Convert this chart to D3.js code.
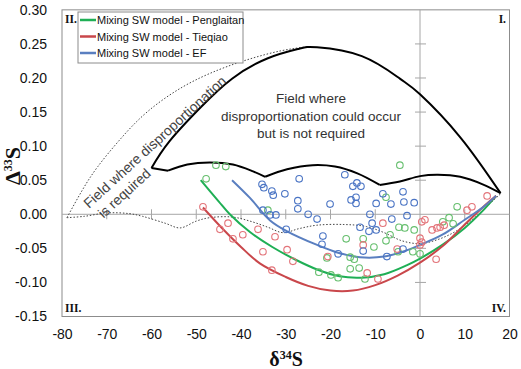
<!DOCTYPE html>
<html>
<head>
<meta charset="utf-8">
<script src="https://cdn.jsdelivr.net/npm/d3@7"></script>
<style>
body { margin: 0; background: #fff; }
text { font-family: "Liberation Sans", Arial, sans-serif; }
</style>
</head>
<body>
<div id="chart"></div>
<script>
// tick values
var xTicks = [-80, -70, -60, -50, -40, -30, -20, -10, 0, 10, 20];
var yTicks = [-0.15, -0.10, -0.05, 0.00, 0.05, 0.10, 0.15, 0.20, 0.25, 0.30];

// field boundaries (d34S, D33S)
var fieldArc = [[-60, 0.068], [-56, 0.107], [-49, 0.157], [-42, 0.199], [-34, 0.229], [-27, 0.243],
    [-23, 0.245], [-13, 0.232], [-4.5, 0.199], [0, 0.176], [9, 0.113], [18, 0.031]];
var fieldStart = [[-60, 0.068], [-56.3, 0.064]];
var fieldHump1 = [[-56.3, 0.064], [-52, 0.073], [-47, 0.076], [-41.8, 0.073], [-37.3, 0.063], [-34.6, 0.055]];
var fieldHump2 = [[-34.6, 0.055], [-29.7, 0.066], [-24, 0.072], [-19, 0.07], [-14, 0.06], [-9, 0.043]];
var fieldHump3 = [[-9, 0.043], [-4.5, 0.048], [0, 0.056], [4, 0.058], [9, 0.055], [14, 0.044], [18, 0.031]];

var dottedUpper = [[-78.9, -0.005], [-75.5, 0.035], [-72, 0.07], [-67, 0.11], [-61, 0.15], [-53, 0.187],
    [-45, 0.212], [-38, 0.228], [-31, 0.24], [-25, 0.246]];
var dottedLower = [[-78.9, -0.005], [-75, -0.003], [-70, 0.002], [-65, 0.001], [-62, -0.003], [-57, -0.013],
    [-53.6, -0.02], [-50, -0.01], [-47, -0.005], [-42, -0.004], [-38, -0.01], [-34, -0.019], [-30.6, -0.027],
    [-27, -0.021], [-23, -0.016], [-17, -0.015], [-12, -0.018], [-8, -0.027], [-4, -0.039], [0, -0.043],
    [4, -0.037], [8, -0.025], [12, -0.006], [15, 0.012], [18, 0.03]];

// mixing models
var modelPenglaitan = [[-49, 0.05], [-45, 0.019], [-42.5, 0], [-38, -0.026], [-33, -0.048], [-28, -0.066],
    [-23, -0.081], [-18, -0.091], [-13, -0.093], [-8, -0.088], [-3, -0.075], [0, -0.065], [5, -0.045],
    [10, -0.02], [14, 0.005], [17, 0.027]];
var modelTieqiao = [[-48.5, 0.01], [-44, -0.022], [-40, -0.048], [-35.8, -0.072], [-30, -0.092], [-25, -0.105],
    [-20, -0.112], [-15, -0.112], [-10, -0.104], [-5, -0.09], [0, -0.071], [5, -0.047], [10, -0.015],
    [14, 0.01], [17, 0.027]];
var modelEF = [[-42, 0.05], [-38, 0.024], [-33.5, -0.009], [-29.7, -0.025], [-23, -0.045], [-18.5, -0.056],
    [-13.4, -0.063], [-8, -0.062], [-3, -0.053], [0, -0.045], [5, -0.03], [10, -0.008], [14, 0.01], [17, 0.027]];

// samples
var pointsPenglaitan = [[-45.6, 0.072], [-43.4, 0.07], [-47.8, 0.052], [-34, 0.006], [-22.6, -0.085], [-4.5, 0.072],
    [-7.6, 0.025], [-20.8, -0.064], [-16.5, -0.036], [-12.7, -0.036], [-10.3, -0.048], [-6.7, -0.03],
    [-7.6, -0.039], [-4.7, -0.019], [-3.4, -0.02], [-1.3, -0.023], [-15.6, -0.063], [-14.7, -0.066],
    [-15.6, -0.08], [-19.9, -0.089], [-18.3, -0.093], [0, -0.058], [-4.9, -0.055], [-12.3, -0.095],
    [8.3, 0.011], [5.1, -0.011], [6.5, -0.005], [7.4, -0.014], [-1.6, -0.055], [-13.6, -0.079]];
var pointsTieqiao = [[-48.5, 0.011], [-42.9, -0.013], [-44.7, -0.022], [-36.2, -0.022], [-41.8, -0.036],
    [-39.6, -0.03], [-32.4, -0.033], [-35.1, -0.055], [-29.7, -0.052], [-28.4, -0.069], [-33.1, -0.082],
    [-20.6, -0.062], [-12.7, -0.045], [-11.8, -0.086], [-9.4, -0.095], [-8.3, -0.013], [-5.1, -0.051],
    [0.4, -0.011], [1.1, -0.008], [0, -0.035], [0.4, -0.041], [0, -0.045], [2.7, -0.023], [3.8, -0.02],
    [4.5, -0.019], [5.4, -0.016], [3.6, -0.066], [10.5, 0.006], [11.6, 0.011], [15, 0.027]];
var pointsEF = [[-35.3, 0.044], [-34.9, 0.039], [-27, 0.052], [-33.1, 0.034], [-32.8, 0.028], [-30.2, 0.03],
    [-27.3, 0.02], [-27.3, 0.008], [-35.1, 0.006], [-33.5, -0.001], [-32.2, -0.001], [-25, 0], [-23, -0.007],
    [-29.9, -0.022], [-16.8, 0.058], [-15, 0.041], [-14.1, 0.046], [-13.2, 0.041], [-14.3, 0.025],
    [-15.4, 0.021], [-14.3, 0.016], [-20.1, 0.015], [-9.8, 0.016], [-8.3, 0.03], [-6.5, 0.015], [-3.8, 0.033],
    [-3.6, 0.018], [-1.3, 0.017], [-11.2, 0], [-10.7, -0.013], [-6.3, -0.007], [-2.9, -0.002], [-13.4, -0.019],
    [-11.4, -0.025], [-9.8, -0.023], [-21.7, -0.032], [-21.9, -0.044], [-18.3, -0.058], [-12.7, -0.054],
    [-7.4, -0.062], [-3.8, -0.051]];

var legendNames = ["Mixing SW model - Penglaitan", "Mixing SW model - Tieqiao", "Mixing SW model - EF"];
var lineColors = ["#1faf55", "#c9474b", "#5a7fc0"];
var pointColors = ["#66bf6e", "#e3747a", "#4a74c4"];

var width = 521, height = 369;
var svg = d3.select("#chart").append("svg")
    .attr("width", width)
    .attr("height", height);

var x = d3.scaleLinear().domain([-80, 20]).range([62, 509.5]);
var y = d3.scaleLinear().domain([-0.15, 0.30]).range([316.5, 9.85]);

// frame
svg.append("rect")
    .attr("x", x(-80)).attr("y", y(0.30))
    .attr("width", x(20) - x(-80)).attr("height", y(-0.15) - y(0.30))
    .attr("fill", "none").attr("stroke", "#8c8c8c").attr("stroke-width", 1);

// outer tick labels
var yAxis = svg.append("g")
    .attr("transform", "translate(" + x(-80) + ",0)")
    .call(d3.axisLeft(y).tickValues(yTicks).tickSize(0).tickPadding(15)
        .tickFormat(function(d){ return d.toFixed(2); }));
var xAxis = svg.append("g")
    .attr("transform", "translate(0," + y(-0.15) + ")")
    .call(d3.axisBottom(x).tickValues(xTicks).tickSize(0).tickPadding(13)
        .tickFormat(function(d){ return String(d); }));
[yAxis, xAxis].forEach(function(a){
    a.select(".domain").remove();
    a.selectAll("text").attr("font-size", "14px").attr("fill", "#111")
        .style("font-family", "'Liberation Sans', Arial, sans-serif");
});

// zero axes with crossing ticks
svg.append("line")
    .attr("x1", x(-80)).attr("x2", x(20)).attr("y1", y(0)).attr("y2", y(0))
    .attr("stroke", "#a6a6a6");
svg.append("line")
    .attr("x1", x(0)).attr("x2", x(0)).attr("y1", y(0.30)).attr("y2", y(-0.15))
    .attr("stroke", "#a6a6a6");
svg.append("g").selectAll("line")
    .data(xTicks.filter(function(d){ return d > -80 && d < 20 && d !== 0; }))
    .enter().append("line")
    .attr("x1", function(d){ return x(d); }).attr("x2", function(d){ return x(d); })
    .attr("y1", y(0) - 5).attr("y2", y(0) + 5)
    .attr("stroke", "#a6a6a6");
svg.append("g").selectAll("line")
    .data(yTicks.filter(function(d){ return d > -0.15 && d < 0.30 && d !== 0; }))
    .enter().append("line")
    .attr("x1", x(0) - 5).attr("x2", x(0) + 6)
    .attr("y1", function(d){ return y(d); }).attr("y2", function(d){ return y(d); })
    .attr("stroke", "#a6a6a6");

var smooth = d3.line()
    .x(function(d){ return x(d[0]); })
    .y(function(d){ return y(d[1]); })
    .curve(d3.curveCatmullRom.alpha(0.5));
var natural = d3.line()
    .x(function(d){ return x(d[0]); })
    .y(function(d){ return y(d[1]); })
    .curve(d3.curveNatural);

// dotted boundaries
svg.append("path").attr("d", natural(dottedUpper))
    .attr("fill", "none").attr("stroke", "#444")
    .attr("stroke-width", 1).attr("stroke-dasharray", "1.5,1.8");
svg.append("path").attr("d", smooth(dottedLower))
    .attr("fill", "none").attr("stroke", "#444")
    .attr("stroke-width", 1).attr("stroke-dasharray", "1.5,1.8");

// field outline
svg.append("path").attr("d", natural(fieldArc))
    .attr("fill", "none").attr("stroke", "#000").attr("stroke-width", 2);
[fieldStart, fieldHump1, fieldHump2, fieldHump3].forEach(function(pts){
    svg.append("path").attr("d", smooth(pts))
        .attr("fill", "none").attr("stroke", "#000")
        .attr("stroke-width", 2).attr("stroke-linejoin", "round");
});

// model curves
[modelPenglaitan, modelTieqiao, modelEF].forEach(function(pts, i){
    svg.append("path").attr("d", smooth(pts))
        .attr("fill", "none").attr("stroke", lineColors[i])
        .attr("stroke-width", 2);
});

// sample points
[pointsPenglaitan, pointsTieqiao, pointsEF].forEach(function(pts, i){
    svg.append("g").selectAll("circle")
        .data(pts)
        .enter().append("circle")
        .attr("cx", function(d){ return x(d[0]); })
        .attr("cy", function(d){ return y(d[1]); })
        .attr("r", 3.3)
        .attr("fill", "none")
        .attr("stroke", pointColors[i])
        .attr("stroke-width", 1.1);
});

// field labels
var mid = svg.append("text")
    .attr("text-anchor", "middle").attr("font-size", "13.5px").attr("fill", "#333");
["Field where", "disproportionation could occur", "but is not required"].forEach(function(t, i){
    mid.append("tspan").attr("x", 311).attr("y", 103 + i * 17.5).text(t);
});

var rot = svg.append("text")
    .attr("transform", "translate(89,209) rotate(-42.5)")
    .attr("font-size", "14px").attr("fill", "#444");
rot.append("tspan").attr("x", 0).attr("y", 0).text("Field where disproportionation");
rot.append("tspan").attr("x", 4).attr("y", 17).text("is required");

// quadrant labels
var quad = [["II.", 65, 23, "start"], ["I.", 506, 23, "end"], ["III.", 65, 312, "start"], ["IV.", 506, 312, "end"]];
quad.forEach(function(q){
    svg.append("text").attr("x", q[1]).attr("y", q[2])
        .attr("text-anchor", q[3])
        .style("font-family", "'Liberation Serif', 'Times New Roman', serif")
        .attr("font-weight", "bold").attr("font-size", "11.5px").attr("fill", "#111")
        .text(q[0]);
});

// axis titles
var yt = svg.append("text")
    .attr("transform", "translate(20,166) rotate(-90)")
    .attr("text-anchor", "middle")
    .style("font-family", "'Liberation Serif', 'Times New Roman', serif")
    .attr("font-weight", "bold").attr("font-size", "22px").attr("fill", "#111");
yt.append("tspan").text("Δ");
yt.append("tspan").attr("font-size", "12px").attr("dy", "-8").text("33");
yt.append("tspan").attr("dy", "8").text("S");

var xt = svg.append("text")
    .attr("x", 286).attr("y", 366)
    .attr("text-anchor", "middle")
    .style("font-family", "'Liberation Serif', 'Times New Roman', serif")
    .attr("font-weight", "bold").attr("font-size", "20px").attr("fill", "#111");
xt.append("tspan").text("δ");
xt.append("tspan").attr("font-size", "12px").attr("dy", "-7").text("34");
xt.append("tspan").attr("dy", "7").text("S");

// legend
var legend = svg.append("g");
legend.append("rect")
    .attr("x", 78).attr("y", 12).attr("width", 165).attr("height", 51)
    .attr("fill", "#fff").attr("stroke", "#8c8c8c");
legendNames.forEach(function(name, i){
    var ly = 20 + i * 16.5;
    legend.append("line")
        .attr("x1", 80).attr("x2", 96).attr("y1", ly).attr("y2", ly)
        .attr("stroke", lineColors[i]).attr("stroke-width", 2.5);
    legend.append("text")
        .attr("x", 97).attr("y", ly + 4)
        .attr("font-size", "11px").attr("fill", "#111")
        .text(name);
});
</script>
</body>
</html>
